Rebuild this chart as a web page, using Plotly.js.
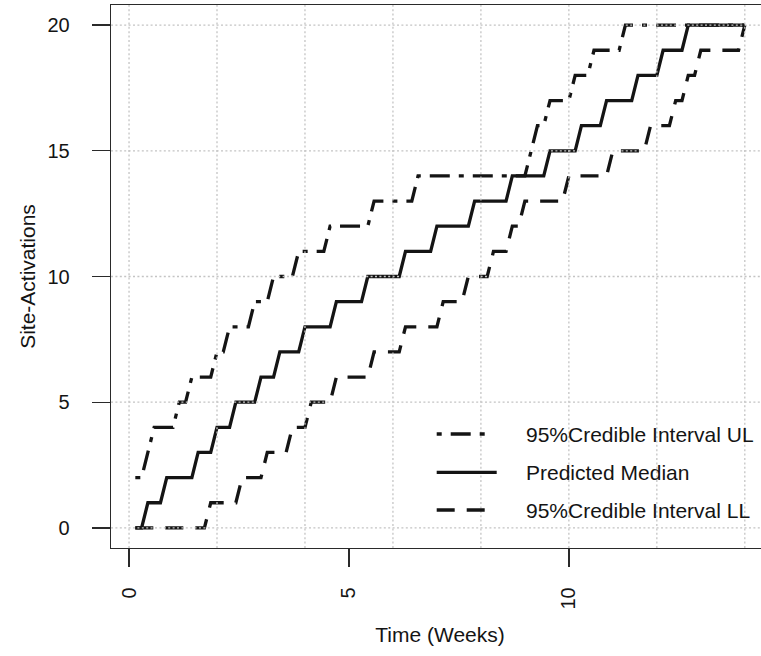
<!DOCTYPE html>
<html>
<head>
<meta charset="utf-8">
<script src="https://cdn.plot.ly/plotly-3.0.1.min.js"></script>
<style>
html,body{margin:0;padding:0;overflow:hidden;background:#fff;}
#chart{width:780px;height:656px;}
</style>
</head>
<body>
<div id="chart"></div>
<script>
// ---- data (daily values, 98 days) ----
const days = [
  1,2,3,4,5,6,7, 8,9,10,11,12,13,14, 15,16,17,18,19,20,21, 22,23,24,25,26,27,28,
  29,30,31,32,33,34,35, 36,37,38,39,40,41,42, 43,44,45,46,47,48,49, 50,51,52,53,54,55,56,
  57,58,59,60,61,62,63, 64,65,66,67,68,69,70, 71,72,73,74,75,76,77, 78,79,80,81,82,83,84,
  85,86,87,88,89,90,91, 92,93,94,95,96,97,98
];
const upperLimit = [
  2,2,3,4,4,4,4,
  5,5,6,6,6,6,7,
  7,8,8,8,8,9,9,
  9,10,10,10,10,11,11,
  11,11,11,12,12,12,12,
  12,12,12,13,13,13,13,
  13,13,13,14,14,14,14,
  14,14,14,14,14,14,14,
  14,14,14,14,14,14,14,
  15,16,16,17,17,17,17,
  18,18,18,19,19,19,19,
  19,20,20,20,20,20,20,
  20,20,20,20,20,20,20,
  20,20,20,20,20,20,20
];
const medianValues = [
  0,0,1,1,1,2,2,
  2,2,2,3,3,3,4,
  4,4,5,5,5,5,6,
  6,6,7,7,7,7,8,
  8,8,8,8,9,9,9,
  9,9,10,10,10,10,10,
  10,11,11,11,11,11,12,
  12,12,12,12,12,13,13,
  13,13,13,13,14,14,14,
  14,14,14,15,15,15,15,
  15,16,16,16,16,17,17,
  17,17,17,18,18,18,18,
  19,19,19,19,20,20,20,
  20,20,20,20,20,20,20
];
const lowerLimit = [
  0,0,0,0,0,0,0,
  0,0,0,0,0,1,1,
  1,1,1,2,2,2,2,
  3,3,3,3,4,4,4,
  5,5,5,5,6,6,6,
  6,6,6,7,7,7,7,
  7,8,8,8,8,8,8,
  9,9,9,9,10,10,10,
  10,11,11,11,12,12,13,
  13,13,13,13,13,13,14,
  14,14,14,14,14,14,15,
  15,15,15,15,15,16,16,
  16,16,17,17,18,18,19,
  19,19,19,19,19,19,20
];
const seriesNames = ["95%Credible Interval UL", "Predicted Median", "95%Credible Interval LL"];
const xTickVals = [0, 5, 10];
const xTickText = ["0", "5", "10"];
const yTickVals = [0, 5, 10, 15, 20];
const yTickText = ["0", "5", "10", "15", "20"];
const gridX = [0, 2, 4, 6, 8, 10, 12, 14];
const gridY = [0, 5, 10, 15, 20];

// ---- styling ----
const weeks = days.map(d => d / 7);
const LW = 3.3;
const dashUL = "5px,9px,20px,9px";
const dashLL = "18px,12px";
const ink = "#141414";
const axisCol = "#2a2a2a";
const gridCol = "#c4c4c4";
const FONT = "Liberation Sans, Arial, Helvetica, sans-serif";

// pixel -> paper helpers for the legend
const L = 111, W = 658, T = 5, H = 543;
const PX = px => (px - L) / W;
const PY = py => (T + H - py) / H;

const traces = [
  {x: weeks, y: medianValues, mode: "lines", name: seriesNames[1],
   line: {color: ink, width: LW, dash: "solid"}, hoverinfo: "skip"},
  {x: weeks, y: upperLimit, mode: "lines", name: seriesNames[0],
   line: {color: ink, width: LW, dash: dashUL}, hoverinfo: "skip"},
  {x: weeks, y: lowerLimit, mode: "lines", name: seriesNames[2],
   line: {color: ink, width: LW, dash: dashLL}, hoverinfo: "skip"}
];

const shapes = [];
gridX.forEach(g => shapes.push({type: "line", layer: "above", xref: "x", yref: "paper",
  x0: g, x1: g, y0: 0, y1: 1, line: {color: gridCol, width: 1.3, dash: "2px,2.4px"}}));
gridY.forEach(g => shapes.push({type: "line", layer: "above", xref: "paper", yref: "y",
  x0: 0, x1: 1, y0: g, y1: g, line: {color: gridCol, width: 1.3, dash: "2px,2.4px"}}));

// legend samples
const legRows = [434, 472.3, 510];
const legDash = [dashUL, "solid", dashLL];
const legEnd = [486, 496.7, 486];
legRows.forEach((r, i) => shapes.push({type: "line", layer: "above", xref: "paper", yref: "paper",
  x0: PX(436.7), x1: PX(legEnd[i]), y0: PY(r), y1: PY(r),
  line: {color: ink, width: LW, dash: legDash[i]}}));

const annotations = legRows.map((r, i) => ({
  xref: "paper", yref: "paper", x: PX(524), y: PY(r), xanchor: "left", yanchor: "middle",
  text: seriesNames[i], showarrow: false, font: {family: FONT, size: 21, color: ink}
}));

const axisCommon = {
  tickmode: "array", ticks: "outside", ticklen: 18, tickwidth: 1.3, tickcolor: axisCol,
  showline: true, mirror: true, linecolor: axisCol, linewidth: 1.3,
  showgrid: false, zeroline: false,
  tickfont: {family: FONT, size: 20, color: ink}
};

const layout = {
  width: 780, height: 656,
  margin: {l: L, r: 780 - L - W, t: T, b: 656 - T - H},
  paper_bgcolor: "#fff", plot_bgcolor: "#fff",
  showlegend: false,
  font: {family: FONT, size: 20, color: ink},
  xaxis: Object.assign({}, axisCommon, {
    range: [-0.41, 14.55], tickvals: xTickVals, ticktext: xTickText, tickangle: -90,
    ticklabelstandoff: 12,
    title: {text: "Time (Weeks)", font: {family: FONT, size: 21, color: ink}, standoff: 18}
  }),
  yaxis: Object.assign({}, axisCommon, {
    range: [-0.8, 20.8], tickvals: yTickVals, ticktext: yTickText, tickangle: 0,
    ticklabelstandoff: 18,
    title: {text: "Site-Activations", font: {family: FONT, size: 21, color: ink}, standoff: 6}
  }),
  shapes: shapes,
  annotations: annotations
};

Plotly.newPlot("chart", traces, layout, {staticPlot: true, displayModeBar: false});
</script>
</body>
</html>
